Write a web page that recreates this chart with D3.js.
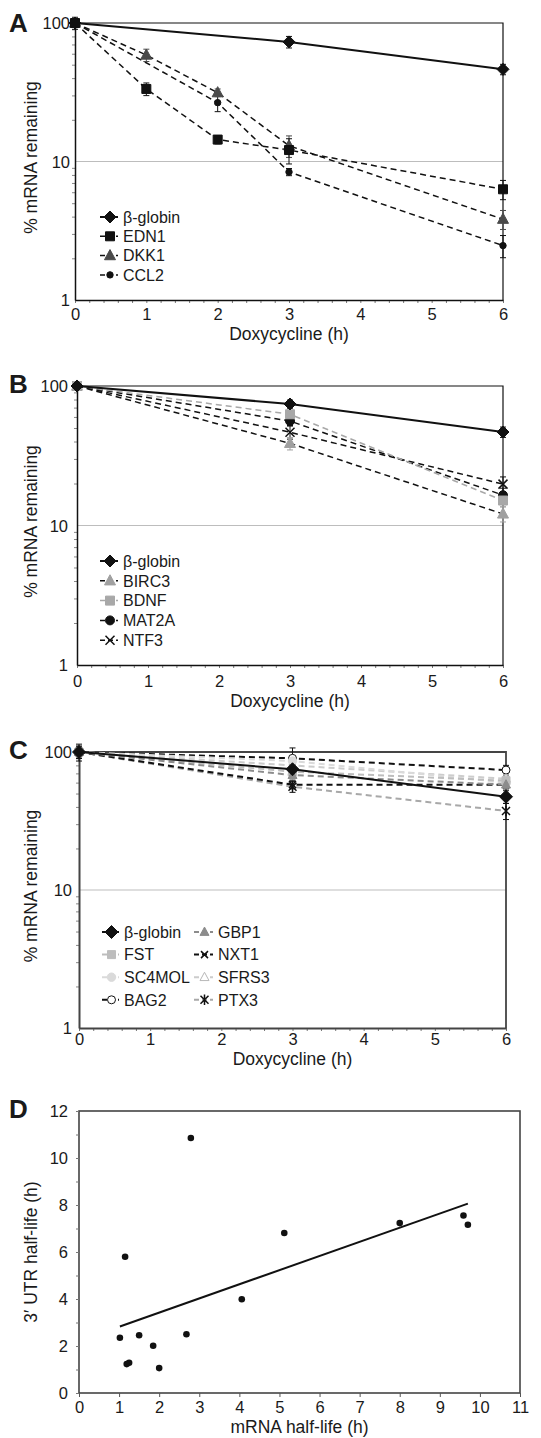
<!DOCTYPE html>
<html><head><meta charset="utf-8">
<script src="https://cdn.jsdelivr.net/npm/d3@7"></script>
<style>
body{margin:0;background:#fff}
svg{display:block}
text{font-family:"Liberation Sans",Arial,Helvetica,sans-serif;fill:#1a1a1a}
</style>
</head><body>
<svg id="chart" width="541" height="1438"></svg>
<script>
// ---------------- DATA ----------------
const timeTicks = [0, 1, 2, 3, 4, 5, 6];
const logTickLabels = [1, 10, 100];

// Panel A
const genesA = ["β-globin", "EDN1", "DKK1", "CCL2"];
const timesA = [[0, 3, 6], [0, 1, 2, 3, 6], [0, 1, 2, 3, 6], [0, 2, 3, 6]];
const valuesA = [[100, 73, 46.3], [100, 33.4, 14.4, 12.1, 6.3], [100, 58.7, 31.4, 13.0, 3.83], [100, 26.6, 8.4, 2.47]];
const errorsA = [[6, 7, 4], [10, 3.5, 1, 2.5, 1], [4, 6, 2, 2.3, 0.6], [4, 3.7, 0.5, 0.45]];

// Panel B
const genesB = ["β-globin", "BIRC3", "BDNF", "MAT2A", "NTF3"];
const timesB = [[0, 3, 6], [0, 3, 6], [0, 3, 6], [0, 3, 6], [0, 3, 6]];
const valuesB = [[100, 74.3, 46.8], [100, 38.8, 12.1], [100, 62.7, 15.1], [100, 56.1, 16.5], [100, 46.6, 19.8]];
const errorsB = [[6, 5, 4], [6, 4, 1.5], [5, 4, 1.5], [5, 4, 2], [5, 5, 2.5]];

// Panel C
const genesC = ["β-globin", "GBP1", "FST", "NXT1", "SC4MOL", "SFRS3", "BAG2", "PTX3"];
const timesC = [[0, 3, 6], [0, 3, 6], [0, 3, 6], [0, 3, 6], [0, 3, 6], [0, 3, 6], [0, 3, 6], [0, 3, 6]];
const valuesC = [[100, 75, 47.4], [100, 68, 58], [100, 72, 62], [100, 58, 58], [100, 86, 60], [100, 80, 64], [100, 90, 74], [100, 56, 37.4]];
const errorsC = [[14, 6, 5], [8, 5, 4], [8, 5, 4], [10, 4, 4], [8, 5, 4], [8, 5, 4], [10, 17, 6], [10, 5, 5]];

// Panel D
const mrnaHalfLife = [1.02, 1.15, 1.19, 1.25, 1.50, 1.85, 2.00, 2.68, 2.79, 4.06, 5.12, 8.00, 9.59, 9.70];
const utrHalfLife  = [2.35, 5.80, 1.23, 1.29, 2.46, 2.01, 1.06, 2.50, 10.85, 3.99, 6.81, 7.23, 7.55, 7.16];
const xTicksD = [0, 1, 2, 3, 4, 5, 6, 7, 8, 9, 10, 11];
const yTicksD = [0, 2, 4, 6, 8, 10, 12];

// ---------------- STYLES ----------------
const K = "#111";
const stylesA = [
  {line: K, dash: false, w: 2, m: "diamond", s: 6, fill: K, stroke: K},
  {line: K, dash: true, w: 1.5, m: "square", s: 4.5, fill: K, stroke: K},
  {line: K, dash: true, w: 1.5, m: "triangle", s: 5.5, fill: "#4a4a4a", stroke: "#4a4a4a"},
  {line: K, dash: true, w: 1.5, m: "circle", s: 3.2, fill: K, stroke: K}
];
const stylesB = [
  {line: K, dash: false, w: 2, m: "diamond", s: 6, fill: K, stroke: K},
  {line: K, dash: true, w: 1.5, m: "triangle", s: 5.5, fill: "#a0a0a0", stroke: "#a0a0a0"},
  {line: "#a8a8a8", dash: true, w: 1.5, m: "square", s: 4.5, fill: "#a8a8a8", stroke: "#a8a8a8"},
  {line: K, dash: true, w: 1.5, m: "circle", s: 4.5, fill: K, stroke: K},
  {line: K, dash: true, w: 1.5, m: "cross", s: 4.5, fill: "none", stroke: K}
];
const stylesC = [
  {line: K, dash: false, w: 2, m: "diamond", s: 6.5, fill: K, stroke: K},
  {line: "#8c8c8c", dash: true, w: 2, m: "triangle", s: 4.5, fill: "#8c8c8c", stroke: "#8c8c8c"},
  {line: "#bdbdbd", dash: true, w: 2, m: "square", s: 4, fill: "#bdbdbd", stroke: "#bdbdbd"},
  {line: K, dash: true, w: 2, m: "cross", s: 3.5, fill: "none", stroke: K},
  {line: "#dadada", dash: true, w: 2, m: "circle", s: 4.2, fill: "#dadada", stroke: "#dadada"},
  {line: "#cccccc", dash: true, w: 2, m: "triangle", s: 4.5, fill: "#fff", stroke: "#b8b8b8"},
  {line: K, dash: true, w: 2, m: "circle", s: 4, fill: "#fff", stroke: K},
  {line: "#a8a8a8", dash: true, w: 2, m: "asterisk", s: 4, fill: "none", stroke: K}
];

// ---------------- HELPERS ----------------
const svg = d3.select("#chart");
const TICK_FS = 16.5;

function markerPath(type, s) {
  switch (type) {
    case "diamond": return `M0,${-s}L${s},0L0,${s}L${-s},0Z`;
    case "square": return `M${-s},${-s}H${s}V${s}H${-s}Z`;
    case "triangle": return `M0,${-s * 1.1}L${s},${s * 0.75}L${-s},${s * 0.75}Z`;
    case "circle": return `M${s},0A${s},${s} 0 1,1 ${-s},0A${s},${s} 0 1,1 ${s},0Z`;
    case "cross": return `M${-s},${-s}L${s},${s}M${s},${-s}L${-s},${s}`;
    case "asterisk": return `M${-s},${-s}L${s},${s}M${s},${-s}L${-s},${s}M0,${-s * 1.3}V${s * 1.3}`;
  }
}
function drawMarker(g, st, cx, cy) {
  const open = st.m === "cross" || st.m === "asterisk";
  g.append("path").attr("d", markerPath(st.m, st.s))
    .attr("transform", `translate(${cx},${cy})`)
    .attr("fill", open ? "none" : st.fill)
    .attr("stroke", st.stroke)
    .attr("stroke-width", open ? 1.5 : 1);
}

function logPanel(cfg) {
  const g = svg.append("g");
  const x = d3.scaleLinear().domain([0, 6]).range([cfg.x0, cfg.x1]);
  const y = d3.scaleLog().domain([1, 100]).range([cfg.bottom, cfg.top]);

  // gridline at 10
  g.append("line").attr("x1", cfg.x0).attr("x2", cfg.x1).attr("y1", y(10)).attr("y2", y(10))
    .attr("stroke", "#bdbdbd").attr("stroke-width", 1.2);

  // frame
  g.append("path").attr("d", `M${cfg.x0},${cfg.top}H${cfg.x1}V${cfg.bottom}`)
    .attr("fill", "none").attr("stroke", cfg.frame).attr("stroke-width", cfg.frameW);

  // minor x ticks
  const minorX = d3.range(0, 6.001, 0.2);
  const xMinor = g.append("g").attr("transform", `translate(0,${cfg.bottom})`)
    .call(d3.axisBottom(x).tickValues(minorX).tickSize(3).tickFormat(""));
  xMinor.select(".domain").remove();
  xMinor.selectAll("line").attr("stroke", "#777");

  // x axis
  const xa = g.append("g").attr("transform", `translate(0,${cfg.bottom})`)
    .call(d3.axisBottom(x).tickValues(timeTicks).tickSize(0).tickFormat(d3.format("d")));
  xa.select(".domain").attr("stroke", cfg.axis).attr("stroke-width", cfg.axisW);
  xa.selectAll("text").attr("y", cfg.tickBase - cfg.bottom).attr("dy", null)
    .attr("font-size", TICK_FS).attr("fill", "#1a1a1a");

  // minor y ticks
  const minorY = [];
  for (let dec of [1, 10]) for (let k = 2; k <= 9; k++) minorY.push(dec * k);
  const yMinor = g.append("g").attr("transform", `translate(${cfg.x0},0)`)
    .call(d3.axisLeft(y).tickValues(minorY).tickSize(3).tickFormat(""));
  yMinor.select(".domain").remove();
  yMinor.selectAll("line").attr("stroke", "#888");

  // y axis
  const ya = g.append("g").attr("transform", `translate(${cfg.x0},0)`)
    .call(d3.axisLeft(y).tickValues(logTickLabels).tickSize(0).tickFormat(d3.format("d")));
  ya.select(".domain").attr("stroke", cfg.axis).attr("stroke-width", cfg.axisW);
  ya.selectAll("text").attr("x", cfg.yLabelRight - cfg.x0).attr("dy", "0.36em")
    .attr("font-size", TICK_FS).attr("fill", "#1a1a1a");

  // series
  const series = cfg.genes.map((name, i) => ({
    name, st: cfg.styles[i],
    pts: cfg.times[i].map((t, j) => ({t, v: cfg.values[i][j], e: cfg.errors[i][j]}))
  }));
  const line = d3.line().x(d => x(d.t)).y(d => y(d.v));
  const order = d3.range(series.length).reverse();
  order.forEach(i => {
    const s = series[i];
    g.append("path").datum(s.pts).attr("d", line).attr("fill", "none")
      .attr("stroke", s.st.line).attr("stroke-width", s.st.w)
      .attr("stroke-dasharray", s.st.dash ? "6,4" : null);
  });
  order.forEach(i => {
    const s = series[i];
    const ec = s.st.m === "cross" || s.st.m === "asterisk" ? s.st.stroke : (s.st.fill === "#fff" ? s.st.stroke : s.st.fill);
    s.pts.forEach(d => {
      const yt = y(d.v + d.e), yb = y(Math.max(d.v - d.e, 1.01));
      const cx = x(d.t);
      g.append("path").attr("d", `M${cx},${yt}V${yb}M${cx - 3},${yt}H${cx + 3}M${cx - 3},${yb}H${cx + 3}`)
        .attr("stroke", ec).attr("stroke-width", 1).attr("fill", "none");
    });
  });
  order.forEach(i => {
    const s = series[i];
    s.pts.forEach(d => drawMarker(g, s.st, x(d.t), y(d.v)));
  });

  // legend
  series.forEach((s, i) => {
    const L = cfg.legend(i);
    g.append("line").attr("x1", L.x).attr("x2", L.x + L.len).attr("y1", L.y).attr("y2", L.y)
      .attr("stroke", s.st.line).attr("stroke-width", s.st.w)
      .attr("stroke-dasharray", s.st.dash ? "5,3" : null);
    drawMarker(g, s.st, L.x + L.len / 2 + 1, L.y);
    g.append("text").attr("x", L.x + L.len + 5).attr("y", L.y).attr("dy", "0.36em")
      .attr("font-size", 16).text(s.name);
  });

  // titles
  g.append("text").attr("x", (cfg.x0 + cfg.x1) / 2).attr("y", cfg.titleBase)
    .attr("text-anchor", "middle").attr("font-size", 17.5).text("Doxycycline (h)");
  g.append("text").attr("transform", `translate(37,${(cfg.top + cfg.bottom) / 2 - 4}) rotate(-90)`)
    .attr("text-anchor", "middle").attr("font-size", 17.5).text("% mRNA remaining");
  g.append("text").attr("x", 9).attr("y", cfg.letterBase).attr("font-size", 26)
    .attr("font-weight", "bold").text(cfg.letter);
}

// ---------------- PANELS ----------------
logPanel({
  letter: "A", top: 23, bottom: 300, x0: 75, x1: 503,
  genes: genesA, times: timesA, values: valuesA, errors: errorsA, styles: stylesA,
  frame: "#111", frameW: 1.2, axis: "#111", axisW: 1.5,
  tickBase: 320, titleBase: 340, yLabelRight: 70, letterBase: 32,
  legend: i => ({x: 100, y: 217 + i * 19.3, len: 18})
});
logPanel({
  letter: "B", top: 386, bottom: 665, x0: 77, x1: 503,
  genes: genesB, times: timesB, values: valuesB, errors: errorsB, styles: stylesB,
  frame: "#111", frameW: 1.2, axis: "#111", axisW: 1.5,
  tickBase: 687, titleBase: 707, yLabelRight: 68, letterBase: 393,
  legend: i => ({x: 100, y: 561 + i * 19.8, len: 18})
});
logPanel({
  letter: "C", top: 752, bottom: 1028, x0: 79, x1: 506,
  genes: genesC, times: timesC, values: valuesC, errors: errorsC, styles: stylesC,
  frame: "#444", frameW: 1.8, axis: "#444", axisW: 2,
  tickBase: 1045, titleBase: 1065, yLabelRight: 72, letterBase: 759,
  legend: i => ({x: i % 2 === 0 ? 102 : 194, y: 932 + Math.floor(i / 2) * 22.6, len: i % 2 === 0 ? 17 : 19})
});

// Panel D
(function () {
  const g = svg.append("g");
  const x0 = 79, x1 = 520, top = 1111, bottom = 1393;
  const x = d3.scaleLinear().domain([0, 11]).range([x0, x1]);
  const y = d3.scaleLinear().domain([0, 12]).range([bottom, top]);

  g.append("rect").attr("x", x0).attr("y", top).attr("width", x1 - x0).attr("height", bottom - top)
    .attr("fill", "none").attr("stroke", "#444").attr("stroke-width", 1.6);

  const xa = g.append("g").attr("transform", `translate(0,${bottom})`)
    .call(d3.axisBottom(x).tickValues(xTicksD).tickSize(4).tickFormat(d3.format("d")));
  xa.select(".domain").remove();
  xa.selectAll("line").attr("stroke", "#555");
  xa.selectAll("text").attr("y", 1413 - bottom).attr("dy", null).attr("font-size", TICK_FS).attr("fill", "#1a1a1a");

  const yMinor = g.append("g").attr("transform", `translate(${x0},0)`)
    .call(d3.axisLeft(y).tickValues(d3.range(0, 13, 1)).tickSize(3).tickFormat(""));
  yMinor.select(".domain").remove();
  yMinor.selectAll("line").attr("stroke", "#777");

  const ya = g.append("g").attr("transform", `translate(${x0},0)`)
    .call(d3.axisLeft(y).tickValues(yTicksD).tickSize(0).tickFormat(d3.format("d")));
  ya.select(".domain").remove();
  ya.selectAll("text").attr("x", 68 - x0).attr("dy", "0.36em").attr("font-size", TICK_FS).attr("fill", "#1a1a1a");

  // regression line (least squares through the points)
  const pts = mrnaHalfLife.map((v, i) => [v, utrHalfLife[i]]);
  const mx = d3.mean(pts, d => d[0]), my = d3.mean(pts, d => d[1]);
  const sxy = d3.sum(pts, d => (d[0] - mx) * (d[1] - my));
  const sxx = d3.sum(pts, d => (d[0] - mx) ** 2);
  const slope = sxy / sxx, icpt = my - slope * mx;
  const [lx0, lx1] = d3.extent(pts, d => d[0]);
  g.append("line").attr("x1", x(lx0)).attr("y1", y(icpt + slope * lx0))
    .attr("x2", x(lx1)).attr("y2", y(icpt + slope * lx1))
    .attr("stroke", "#111").attr("stroke-width", 2);

  g.selectAll("circle.pt").data(pts).enter().append("circle")
    .attr("cx", d => x(d[0])).attr("cy", d => y(d[1])).attr("r", 3.3).attr("fill", "#111");

  g.append("text").attr("x", (x0 + x1) / 2).attr("y", 1433).attr("text-anchor", "middle")
    .attr("font-size", 17.5).text("mRNA half-life (h)");
  g.append("text").attr("transform", `translate(37,${(top + bottom) / 2}) rotate(-90)`)
    .attr("text-anchor", "middle").attr("font-size", 17.5).text("3′ UTR half-life (h)");
  g.append("text").attr("x", 9).attr("y", 1118).attr("font-size", 26)
    .attr("font-weight", "bold").text("D");
})();
</script>
</body></html>
